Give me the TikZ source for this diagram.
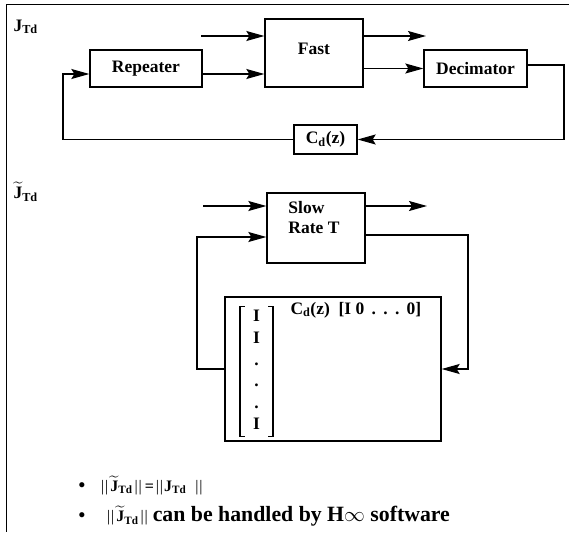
\documentclass[tikz,border=0pt]{standalone}
\usepackage{fontspec}
\setmainfont{Liberation Serif}
\usepackage{amsmath}
\usetikzlibrary{arrows.meta}
\tikzstyle{blk}=[draw, line width=1.3pt, inner sep=0pt]
\tikzstyle{arr}=[line width=1.3pt, -{Stealth[length=18pt,width=10pt,inset=3pt]}]
\tikzstyle{brk}=[line width=1.5pt]
\newcommand{\tJ}{$\widetilde{\mbox{J}}$}
\newcommand{\nrm}{{\mdseries\textbar\kern0.8pt\textbar}}
\newcommand{\bigtxt}{\fontsize{21.8}{24}\selectfont}
\newcommand{\bul}{{\fontsize{19}{20}\selectfont\textbullet}}

\begin{document}
\begin{tikzpicture}[x=1pt, y=-1pt, font=\fontsize{17.5}{20}\selectfont\bfseries]
\useasboundingbox (0,0) rectangle (569,532);
\draw[line width=1pt] (569,5) -- (6,5) -- (6,532);
\node[anchor=west] (jtd) at (10,27) {J\textsubscript{Td}};
\node[blk, minimum width=112, minimum height=37] (rep) at (146,68.5) {Repeater};
\node[blk, minimum width=98, minimum height=68] (fast) at (314,53) {};
\node (fastlbl) at (314,49) {Fast};
\node[blk, minimum width=103, minimum height=37] (dec) at (475.5,68.5) {Decimator};
\node[blk, minimum width=63, minimum height=29] (cd) at (325.5,139.5) {C\textsubscript{d}(z)};
\coordinate (fin) at (201,36);
\coordinate (fout) at (426,36);
\coordinate (rlow) at ([yshift=-5.5pt]rep.east);
\coordinate (dout) at ([yshift=3.5pt]dec.east);
\coordinate (rc) at (564,139.5);
\coordinate (lc) at (63,139.5);
\draw[arr] (fin) -- (fin -| fast.west);
\draw[arr] (fout -| fast.east) -- (fout);
\draw[arr] (rlow) -- (rlow -| fast.west);
\draw[arr] (dec.west -| fast.east) -- (dec.west);
\draw[arr] (dout) -| (rc) -- (cd.east);
\draw[arr] (cd.west) -- (lc) |- ([yshift=-5.5pt]rep.west);
\node[anchor=west] (jtt) at (10,192) {\tJ\textsubscript{Td}};
\node[blk, minimum width=98, minimum height=70] (slow) at (316,228) {};
\node[align=left] (slowlbl) at (314,218) {Slow\\Rate T};
\node[blk, minimum width=216, minimum height=144] (big) at (333,369) {};
\node[inner sep=0pt, minimum width=33, minimum height=129] (vec) at (256.5,371.5)
  {\renewcommand{\arraystretch}{1.08}\begin{tabular}{@{}c@{}}I\\I\\.\\.\\.\\I\end{tabular}};
\draw[brk] ([xshift=5pt]vec.north west) -- (vec.north west) -- (vec.south west) -- ([xshift=5pt]vec.south west);
\draw[brk] ([xshift=-5pt]vec.north east) -- (vec.north east) -- (vec.south east) -- ([xshift=-5pt]vec.south east);
\node[anchor=west] (cdrow) at (287,310) {C\textsubscript{d}(z)~~[I\ 0\ \,.\ \,.\ \,.\ \,0]};
\coordinate (sin) at (203,206);
\coordinate (sout) at (427,206);
\coordinate (sr) at (468,235);
\coordinate (sl) at (197,237);
\draw[arr] (sin) -- (sin -| slow.west);
\draw[arr] (sout -| slow.east) -- (sout);
\draw[arr] (sr -| slow.east) -- (sr) |- (big.east);
\draw[arr] (big.west) -| (sl) -- (sl -| slow.west);
\node[anchor=west, font=\fontsize{16}{20}\selectfont\bfseries] (pt1) at (75,485)
  {\bul\hspace{16pt}\nrm\hspace{2pt}\tJ\textsubscript{Td}\hspace{2pt}\nrm\hspace{3pt}=\hspace{2pt}\nrm\hspace{1pt}J\textsubscript{Td}\hspace{9pt}\nrm};
\node[anchor=west, font=\fontsize{16}{20}\selectfont\bfseries] (pt2) at (75,516)
  {\bul\hspace{22pt}\nrm\hspace{2pt}\tJ\textsubscript{Td}\hspace{2pt}\nrm\hspace{5pt}{\bigtxt can be handled by H$\infty$ software}};
\end{tikzpicture}
\end{document}
